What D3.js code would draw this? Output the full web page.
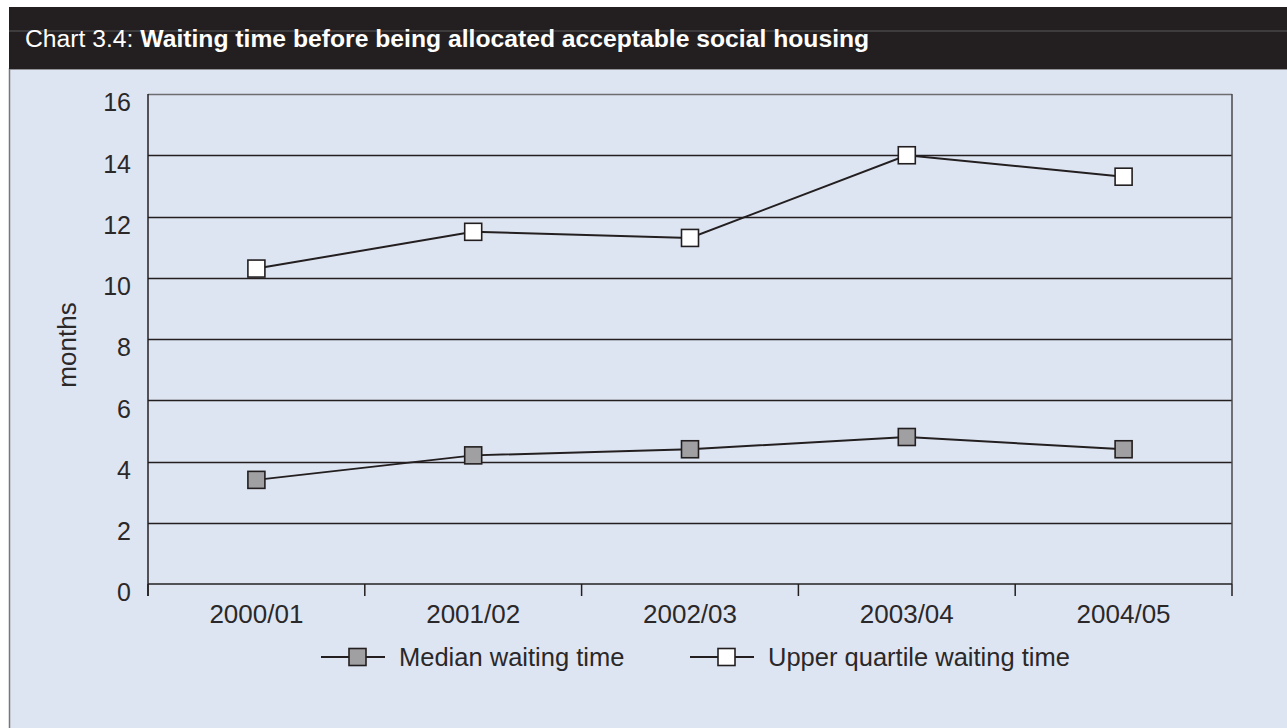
<!DOCTYPE html>
<html>
<head>
<meta charset="utf-8">
<script src="https://cdn.jsdelivr.net/npm/d3@7"></script>
<style>
  html, body { margin: 0; padding: 0; background: #ffffff; }
  svg { display: block; font-family: "Liberation Sans", Arial, Helvetica, sans-serif; }
</style>
</head>
<body>
<svg id="chart" width="1287" height="728"></svg>
<script>
// Financial years on the x axis
const years = ["2000/01", "2001/02", "2002/03", "2003/04", "2004/05"];
// Waiting time in months
const medianWait = [3.4, 4.2, 4.4, 4.8, 4.4];
const upperQuartileWait = [10.3, 11.5, 11.3, 14.0, 13.3];
const yTicks = [0, 2, 4, 6, 8, 10, 12, 14, 16];
const seriesNames = ["Median waiting time", "Upper quartile waiting time"];
const seriesFills = ["#a09fa2", "#ffffff"];

const ink = "#231f20";
const textInk = "#2b2829";
const svg = d3.select("#chart");

// Panel background and title bar
svg.append("rect").attr("x", 9.5).attr("y", 69).attr("width", 1290).attr("height", 670)
  .attr("fill", "#dee5f2").attr("stroke", "#77777a").attr("stroke-width", 1.5);
svg.append("rect").attr("x", 9).attr("y", 7).attr("width", 1290).attr("height", 62)
  .attr("fill", ink);
svg.append("line").attr("x1", 9).attr("x2", 1287).attr("y1", 31).attr("y2", 31)
  .attr("stroke", "#5c5a5c").attr("stroke-width", 1);

const title = svg.append("text").attr("x", 25).attr("y", 47)
  .attr("fill", "#ffffff").attr("font-size", 24.7);
title.append("tspan").text("Chart 3.4: ");
title.append("tspan").attr("font-weight", "bold").text("Waiting time before being allocated acceptable social housing");

// Plot area
const plotLeft = 148, plotRight = 1232, plotTop = 94, plotBottom = 584;
const x = d3.scaleBand().domain(years).range([plotLeft, plotRight]);
const y = d3.scaleLinear().domain([0, 16]).range([plotBottom, plotTop]);

const g = svg.append("g");

// Horizontal gridlines
g.append("g").selectAll("line").data(yTicks.filter(d => d > 0)).join("line")
  .attr("x1", plotLeft).attr("x2", plotRight)
  .attr("y1", d => Math.round(y(d)) + 0.5).attr("y2", d => Math.round(y(d)) + 0.5)
  .attr("stroke", d => d === 16 ? "#6d6c70" : ink).attr("stroke-width", 1.3);

// Right border of plot box
g.append("line").attr("x1", plotRight).attr("x2", plotRight).attr("y1", plotTop).attr("y2", plotBottom)
  .attr("stroke", "#4a4849").attr("stroke-width", 1.5);

// Y axis (labels hang just below their gridline)
const yAxis = d3.axisLeft(y).tickValues(yTicks).tickSize(0).tickPadding(17);
const yg = g.append("g").attr("transform", `translate(${plotLeft},0)`).call(yAxis);
yg.select(".domain").attr("stroke", ink).attr("stroke-width", 1.5)
  .attr("d", `M0,${plotTop}V${plotBottom + 12}`);
yg.selectAll("text").attr("font-size", 25).attr("fill", textInk)
  .attr("font-family", "Liberation Sans, Arial, sans-serif")
  .attr("dy", "0.67em");

// X axis: ticks at band boundaries, labels at centres
g.append("line").attr("x1", plotLeft).attr("x2", plotRight).attr("y1", plotBottom).attr("y2", plotBottom)
  .attr("stroke", ink).attr("stroke-width", 1.5);
const boundaries = years.map(d => x(d)).concat([plotRight]);
g.append("g").selectAll("line").data(boundaries).join("line")
  .attr("x1", d => d).attr("x2", d => d).attr("y1", plotBottom).attr("y2", plotBottom + 12)
  .attr("stroke", ink).attr("stroke-width", 1.5);
g.append("g").selectAll("text").data(years).join("text")
  .attr("x", d => x(d) + x.bandwidth() / 2).attr("y", plotBottom + 39)
  .attr("text-anchor", "middle").attr("font-size", 26).attr("fill", textInk)
  .text(d => d);

// Y axis title
svg.append("text").attr("transform", `translate(76,345) rotate(-90)`)
  .attr("text-anchor", "middle").attr("font-size", 26).attr("fill", textInk)
  .text("months");

// Series lines and markers
const cx = d => x(d) + x.bandwidth() / 2;
const line = d3.line().x((v, i) => cx(years[i])).y(v => y(v));
const allSeries = [medianWait, upperQuartileWait];
const sq = 17;
allSeries.forEach((vals, si) => {
  g.append("path").datum(vals).attr("d", line)
    .attr("fill", "none").attr("stroke", ink).attr("stroke-width", 2);
  g.append("g").selectAll("rect").data(vals).join("rect")
    .attr("x", (v, i) => cx(years[i]) - sq / 2).attr("y", v => y(v) - sq / 2)
    .attr("width", sq).attr("height", sq)
    .attr("fill", seriesFills[si]).attr("stroke", ink).attr("stroke-width", 1.6);
});

// Legend
const legendY = 657;
const legendX = [321, 690];
seriesNames.forEach((name, i) => {
  const lg = svg.append("g").attr("transform", `translate(${legendX[i]},${legendY})`);
  lg.append("line").attr("x1", 0).attr("x2", 64).attr("y1", 0).attr("y2", 0)
    .attr("stroke", ink).attr("stroke-width", 2);
  lg.append("rect").attr("x", 28).attr("y", -sq / 2).attr("width", sq).attr("height", sq)
    .attr("fill", seriesFills[i]).attr("stroke", ink).attr("stroke-width", 1.6);
  lg.append("text").attr("x", 78).attr("y", 9).attr("font-size", 25.5).attr("fill", textInk)
    .text(name);
});
</script>
</body>
</html>
